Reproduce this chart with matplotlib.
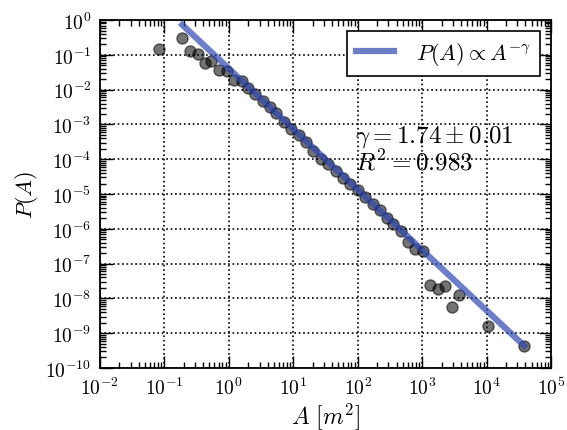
import numpy as np
import matplotlib
matplotlib.use('Agg')
import matplotlib.pyplot as plt
from matplotlib.ticker import LogLocator, NullFormatter

plt.rcParams['mathtext.fontset'] = 'cm'
plt.rcParams['font.family'] = 'serif'
plt.rcParams['font.serif'] = ['cmr10', 'DejaVu Serif']
plt.rcParams['axes.formatter.use_mathtext'] = True
plt.rcParams['axes.unicode_minus'] = False

# binned area distribution
area = [0.083, 0.19, 0.25, 0.33, 0.43, 0.54, 0.71, 0.93, 1.2, 1.58, 2.0,
        2.6, 3.45, 4.3, 5.5, 7.2, 9.3, 12.3, 15.8, 20.5, 27.0, 34.7, 45.7,
        58.9, 75.9, 100.0, 129.0, 170.0, 219.0, 282.0, 355.0, 468.0, 603.0,
        776.0, 1023.0, 1318.0, 1738.0, 2239.0, 2884.0, 3715.0, 10470.0,
        38000.0]
prob = [0.148, 0.30, 0.13, 0.105, 0.060, 0.068, 0.037, 0.035, 0.019, 0.018,
        0.011, 7.4e-3, 4.8e-3, 3.1e-3, 2.1e-3, 1.17e-3, 7.6e-4, 5.1e-4,
        3.2e-4, 1.74e-4, 1.0e-4, 7.1e-5, 4.7e-5, 2.8e-5, 1.95e-5, 1.32e-5,
        8.3e-6, 5.0e-6, 3.4e-6, 2.0e-6, 1.38e-6, 8.7e-7, 4.3e-7, 2.6e-7,
        2.35e-7, 2.4e-8, 1.86e-8, 2.2e-8, 5.5e-9, 1.25e-8, 1.58e-9, 4.2e-10]

gamma = 1.74
gamma_err = 0.01
r2 = 0.983
amp = 0.0407

fig = plt.figure(figsize=(5.67, 4.31), dpi=100, facecolor='white')
ax = fig.add_subplot(111)
fig.subplots_adjust(left=0.176, right=0.972, top=0.951, bottom=0.144)

ax.plot(area, prob, 'o', color='k', alpha=0.55, markersize=8,
        markeredgecolor='k', zorder=2)

xf = np.array([area[1], area[-1]])
ax.plot(xf, amp * xf ** (-gamma), '-', color='#2f47b0', alpha=0.7, lw=4.5,
        label=r'$P(A)\propto A^{-\gamma}$', zorder=3)

ax.set_xscale('log')
ax.set_yscale('log')
ax.set_xlim(1e-2, 1e5)
ax.set_ylim(1e-10, 1e0)

ax.xaxis.set_major_locator(LogLocator(base=10, numticks=20))
ax.yaxis.set_major_locator(LogLocator(base=10, numticks=20))
ax.xaxis.set_minor_locator(LogLocator(base=10, subs=np.arange(2, 10), numticks=200))
ax.yaxis.set_minor_locator(LogLocator(base=10, subs=np.arange(2, 10), numticks=200))
ax.xaxis.set_minor_formatter(NullFormatter())
ax.yaxis.set_minor_formatter(NullFormatter())

ax.tick_params(which='both', direction='in', top=True, right=True, width=1)
ax.tick_params(which='major', length=9, labelsize=14, pad=6)
ax.tick_params(which='minor', length=4)
for s in ax.spines.values():
    s.set_linewidth(1.3)

ax.grid(True, which='major', color='k', linestyle=':', lw=1.2)

ax.set_xlabel(r'$A\ [m^2]$', fontsize=17, labelpad=2)
ax.set_ylabel(r'$P(A)$', fontsize=16)

ax.text(0.565, 0.705, r'$\gamma=%.2f\pm%.2f$' % (gamma, gamma_err) + '\n' +
        r'$R^2=%.3f$' % r2, transform=ax.transAxes, fontsize=18,
        va='top', ha='left', linespacing=1.0)

leg = ax.legend(loc='upper right', fontsize=16, fancybox=False,
                framealpha=1, edgecolor='k', handlelength=1.7,
                handletextpad=1.0)
leg.get_frame().set_linewidth(1.2)

fig.savefig('out.png', dpi=100)
